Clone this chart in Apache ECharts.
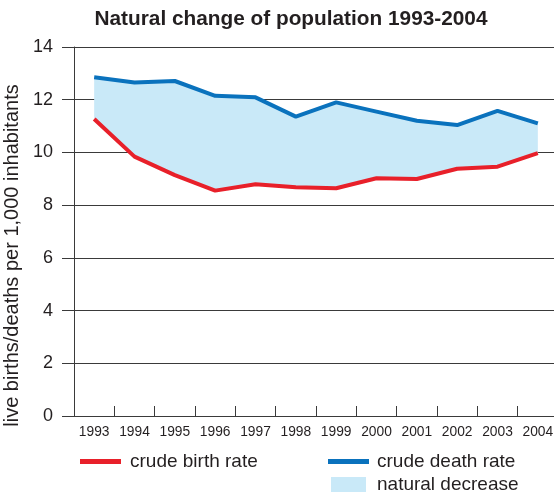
<!DOCTYPE html>
<html><head><meta charset="utf-8">
<script src="https://cdn.jsdelivr.net/npm/echarts@6/dist/echarts.min.js"></script>
<style>html,body{margin:0;padding:0;background:#fff}#c{width:554px;height:495px}</style>
</head><body><div id="c"></div>
<script>
const years = ['1993','1994','1995','1996','1997','1998','1999','2000','2001','2002','2003','2004'];
const birthRate = [11.27, 9.84, 9.14, 8.55, 8.79, 8.68, 8.64, 9.02, 8.99, 9.38, 9.46, 9.97];
const deathRate = [12.85, 12.65, 12.71, 12.15, 12.09, 11.36, 11.90, 11.55, 11.20, 11.04, 11.58, 11.10];
const yTicks = [0, 2, 4, 6, 8, 10, 12, 14];

const gap = deathRate.map((d, i) => +(d - birthRate[i]).toFixed(3));
const RED = '#e8202a', BLUE = '#0a72bd', FILL = '#c9e9f8', TXT = '#231f20', AX = '#3a3a3a';
const FONT = 'Liberation Sans, Arial, sans-serif';

const chart = echarts.init(document.getElementById('c'), null, {renderer: 'canvas'});
chart.setOption({
  animation: false,
  textStyle: {fontFamily: FONT, color: TXT},
  title: {
    text: 'Natural change of population 1993-2004',
    left: 291, top: 9, textAlign: 'center', padding: 0,
    textStyle: {fontFamily: FONT, fontWeight: 'bold', fontSize: 20.8, color: TXT}
  },
  grid: {left: 74, top: 47, width: 484, height: 369, containLabel: false, outerBoundsMode: 'none'},
  xAxis: {
    type: 'category', data: years, boundaryGap: true,
    axisLine: {show: true, lineStyle: {color: AX, width: 1}},
    axisTick: {show: true, inside: true, length: 10, lineStyle: {color: AX}},
    axisLabel: {fontFamily: FONT, fontSize: 13.8, color: TXT, margin: 9, interval: 0}
  },
  yAxis: {
    type: 'value', min: yTicks[0], max: yTicks[yTicks.length - 1], interval: 2,
    name: 'live births/deaths per 1,000 inhabitants',
    nameLocation: 'middle', nameRotate: 90, nameGap: 49,
    nameTextStyle: {fontFamily: FONT, fontSize: 20, color: TXT, padding: [0, 48, 0, 0]},
    axisLine: {show: true, lineStyle: {color: AX, width: 1}},
    axisTick: {show: true, length: 12, lineStyle: {color: AX}},
    axisLabel: {fontFamily: FONT, fontSize: 18, color: TXT, margin: 21},
    splitLine: {show: true, lineStyle: {color: AX, width: 1}}
  },
  legend: [
    {data: [{name: 'crude birth rate', icon: 'rect', itemStyle: {color: RED}}],
     left: 80, top: 452, padding: 0, itemWidth: 41, itemHeight: 5,
     textStyle: {fontFamily: FONT, fontSize: 19, color: TXT, padding: [0, 0, 0, 4]}},
    {data: [{name: 'crude death rate', icon: 'rect', itemStyle: {color: BLUE}}],
     left: 328, top: 452, padding: 0, itemWidth: 41, itemHeight: 5,
     textStyle: {fontFamily: FONT, fontSize: 19, color: TXT, padding: [0, 0, 0, 3]}},
    {data: [{name: 'natural decrease', icon: 'rect', itemStyle: {color: FILL}}],
     left: 331, top: 475, padding: 0, itemWidth: 35, itemHeight: 15,
     textStyle: {fontFamily: FONT, fontSize: 19, color: TXT, padding: [0, 0, 0, 6]}}
  ],
  series: [
    {name: 'base', type: 'line', stack: 'band', data: birthRate, symbol: 'none',
     lineStyle: {opacity: 0}, silent: true, z: 1},
    {name: 'natural decrease', type: 'line', stack: 'band', data: gap, symbol: 'none',
     lineStyle: {opacity: 0}, areaStyle: {color: FILL, opacity: 1}, itemStyle: {color: FILL}, z: 1},
    {name: 'crude birth rate', type: 'line', data: birthRate, symbol: 'none',
     lineStyle: {color: RED, width: 4}, itemStyle: {color: RED}, z: 3},
    {name: 'crude death rate', type: 'line', data: deathRate, symbol: 'none',
     lineStyle: {color: BLUE, width: 4}, itemStyle: {color: BLUE}, z: 3}
  ]
});
</script></body></html>
